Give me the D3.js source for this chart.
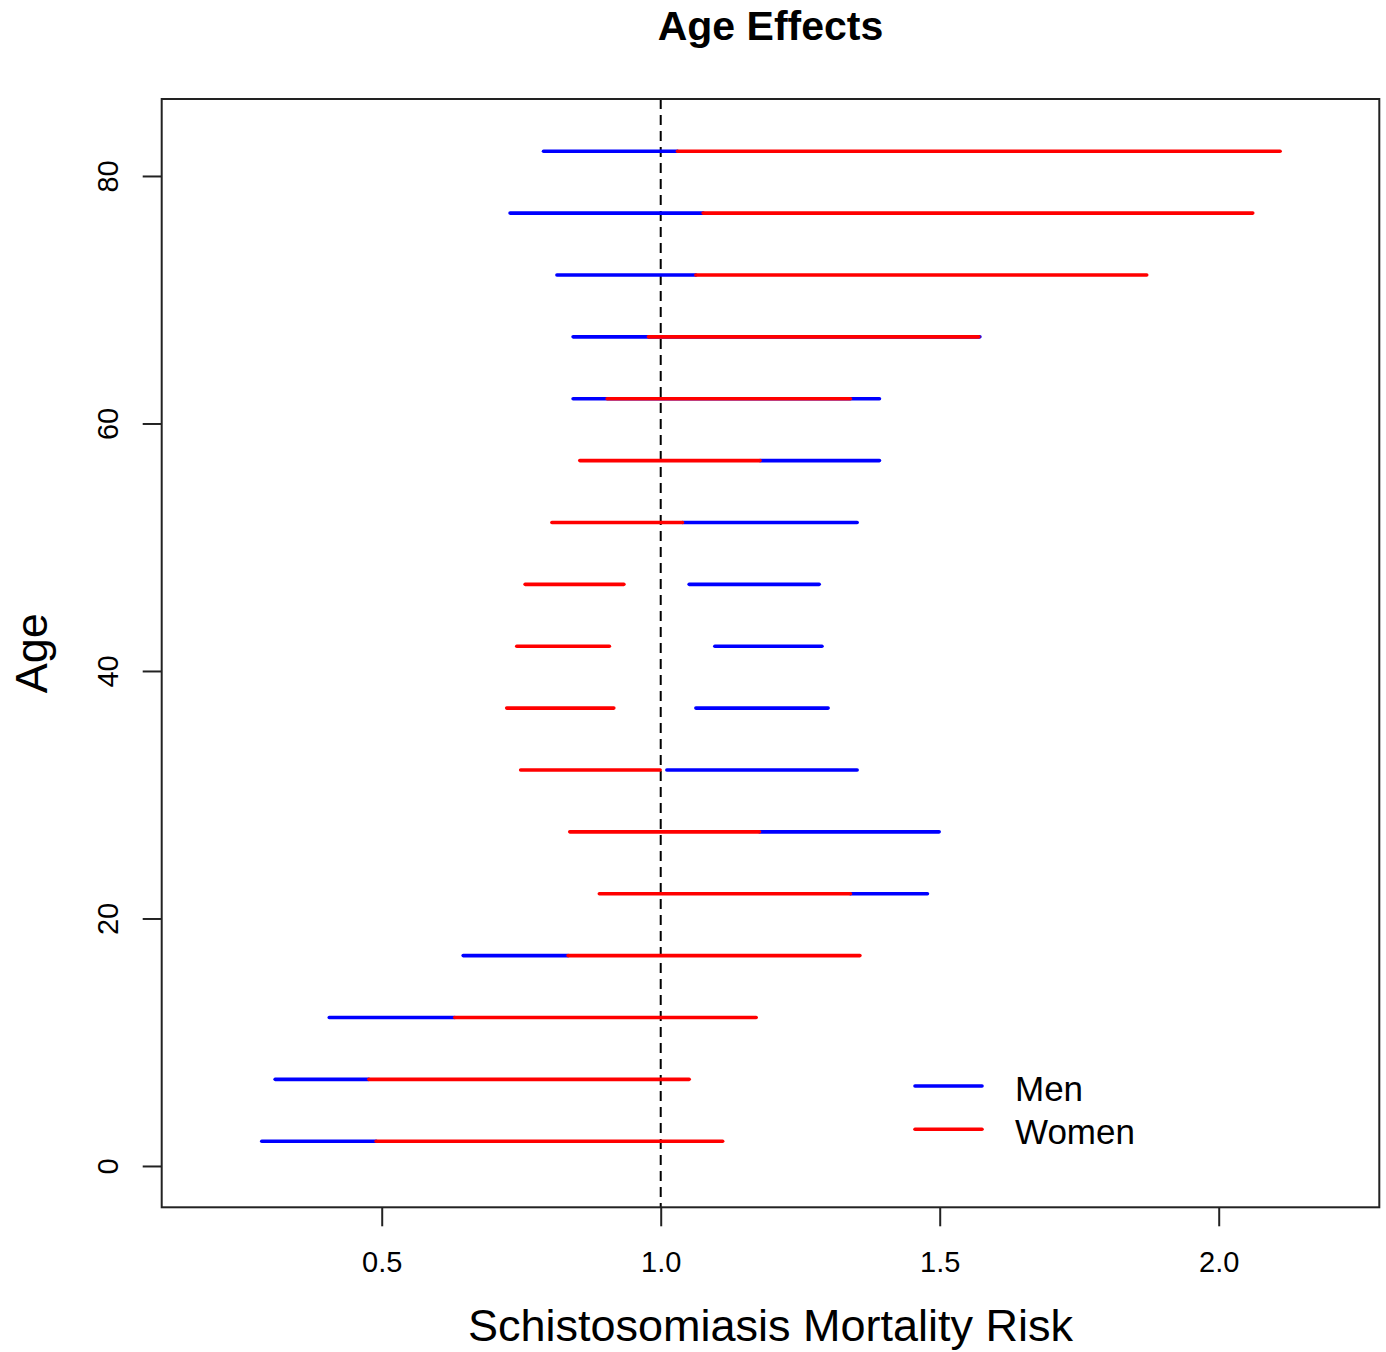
<!DOCTYPE html>
<html>
<head>
<meta charset="utf-8">
<script src="https://cdn.jsdelivr.net/npm/d3@7"></script>
<style>
  body { margin: 0; background: #fff; }
  text { font-family: "Liberation Sans", Arial, sans-serif; fill: #000; }
</style>
</head>
<body>
<svg id="grafico"></svg>
<script>
// Dados (idade no eixo Y, risco no eixo X)
var ages       = [2, 7, 12, 17, 22, 27, 32, 37, 42, 47, 52, 57, 62, 67, 72, 77, 82];
var menLow     = [0.285, 0.309, 0.406, 0.646, 1.340, 1.177, 1.011, 1.063, 1.097, 1.051, 1.039, 1.178, 0.843, 0.843, 0.814, 0.730, 0.790];
var menHigh    = [0.490, 0.477, 0.631, 0.834, 1.478, 1.499, 1.352, 1.300, 1.289, 1.284, 1.352, 1.392, 1.392, 1.572, 1.063, 1.076, 1.030];
var womenLow   = [0.490, 0.477, 0.631, 0.834, 0.890, 0.837, 0.749, 0.724, 0.742, 0.757, 0.805, 0.855, 0.904, 0.978, 1.063, 1.076, 1.030];
var womenHigh  = [1.111, 1.051, 1.171, 1.357, 1.340, 1.177, 0.999, 0.916, 0.908, 0.934, 1.039, 1.178, 1.340, 1.570, 1.871, 2.061, 2.110];
var xTicks     = [0.5, 1.0, 1.5, 2.0];
var yTicks     = [0, 20, 40, 60, 80];
var seriesNames  = ['Men', 'Women'];
var seriesColors = ['#0000ff', '#ff0000'];

var largura = 1386, altura = 1352;

// Seleciona o elemento SVG
var svg = d3.select('#grafico')
            .attr('width', largura)
            .attr('height', altura);

// Margens da área de plotagem
var margem = { esquerda: 161.7, direita: 6.7, superior: 99, inferior: 144.7 };
var larguraPlotagem = largura - margem.esquerda - margem.direita;
var alturaPlotagem = altura - margem.superior - margem.inferior;

var plotagem = svg.append('g')
                  .attr('transform', 'translate(' + margem.esquerda + ',' + margem.superior + ')');

// Escalas
var x = d3.scaleLinear()
          .domain([0.1057, 2.2878])
          .range([0, larguraPlotagem]);
var y = d3.scaleLinear()
          .domain([-3.34, 86.22])
          .range([alturaPlotagem, 0]);

// Linha tracejada de referência em 1.0
plotagem.append('line')
        .attr('x1', x(1)).attr('x2', x(1))
        .attr('y1', 0).attr('y2', alturaPlotagem)
        .attr('stroke', '#000')
        .attr('stroke-width', 2)
        .attr('stroke-dasharray', '10,6');

// Segmentos: homens primeiro, mulheres por cima
var linhas = ages.map(function(a, i) {
  return { age: a, mLo: menLow[i], mHi: menHigh[i], wLo: womenLow[i], wHi: womenHigh[i] };
});

plotagem.selectAll('.men')
        .data(linhas)
        .enter()
        .append('line')
        .classed('men', true)
        .attr('x1', d => x(d.mLo))
        .attr('x2', d => x(d.mHi))
        .attr('y1', d => y(d.age))
        .attr('y2', d => y(d.age))
        .attr('stroke', seriesColors[0])
        .attr('stroke-width', 3.6)
        .attr('stroke-linecap', 'round');

plotagem.selectAll('.women')
        .data(linhas)
        .enter()
        .append('line')
        .classed('women', true)
        .attr('x1', d => x(d.wLo))
        .attr('x2', d => x(d.wHi))
        .attr('y1', d => y(d.age))
        .attr('y2', d => y(d.age))
        .attr('stroke', seriesColors[1])
        .attr('stroke-width', 3.6)
        .attr('stroke-linecap', 'round');

// Caixa em volta da área de plotagem
plotagem.append('rect')
        .attr('width', larguraPlotagem)
        .attr('height', alturaPlotagem)
        .attr('fill', 'none')
        .attr('stroke', '#222')
        .attr('stroke-width', 2);

// Eixo X
var eixoX = d3.axisBottom(x)
              .tickValues(xTicks)
              .tickFormat(d3.format('.1f'))
              .tickSize(19)
              .tickPadding(25);
var gX = plotagem.append('g')
                 .attr('transform', 'translate(0,' + alturaPlotagem + ')')
                 .call(eixoX);
gX.select('.domain').remove();
gX.selectAll('line').attr('stroke', '#222').attr('stroke-width', 2);
gX.selectAll('text')
  .style('font-size', '29px')
  .style('font-family', '"Liberation Sans", Arial, sans-serif')
  .attr('fill', '#000');

// Eixo Y (rótulos girados, como no R)
var eixoY = d3.axisLeft(y)
              .tickValues(yTicks)
              .tickSize(19)
              .tickFormat(d3.format('d'));
var gY = plotagem.append('g')
                 .call(eixoY);
gY.select('.domain').remove();
gY.selectAll('line').attr('stroke', '#222').attr('stroke-width', 2);
gY.selectAll('text')
  .attr('x', null).attr('dy', null)
  .attr('transform', 'translate(-54,0) rotate(-90)')
  .attr('text-anchor', 'middle')
  .attr('dominant-baseline', 'central')
  .style('font-size', '29px')
  .style('font-family', '"Liberation Sans", Arial, sans-serif')
  .attr('fill', '#000');

// Títulos
svg.append('text')
   .attr('x', margem.esquerda + larguraPlotagem / 2)
   .attr('y', 40)
   .attr('text-anchor', 'middle')
   .style('font-size', '41px')
   .style('font-weight', 'bold')
   .text('Age Effects');

svg.append('text')
   .attr('x', margem.esquerda + larguraPlotagem / 2)
   .attr('y', 1341)
   .attr('text-anchor', 'middle')
   .style('font-size', '45px')
   .text('Schistosomiasis Mortality Risk');

svg.append('text')
   .attr('transform', 'translate(47,' + (margem.superior + alturaPlotagem / 2) + ') rotate(-90)')
   .attr('text-anchor', 'middle')
   .style('font-size', '45px')
   .text('Age');

// Legenda
var legenda = svg.append('g')
                 .attr('transform', 'translate(915,1086)');
var itens = legenda.selectAll('g')
                   .data(seriesNames)
                   .enter()
                   .append('g')
                   .attr('transform', (d, i) => 'translate(0,' + (i * 43.3) + ')');
itens.append('line')
     .attr('x1', 0).attr('x2', 67)
     .attr('stroke', (d, i) => seriesColors[i])
     .attr('stroke-width', 3.6)
     .attr('stroke-linecap', 'round');
itens.append('text')
     .attr('x', 100)
     .attr('y', 14.7)
     .style('font-size', '35px')
     .text(d => d);
</script>
</body>
</html>
